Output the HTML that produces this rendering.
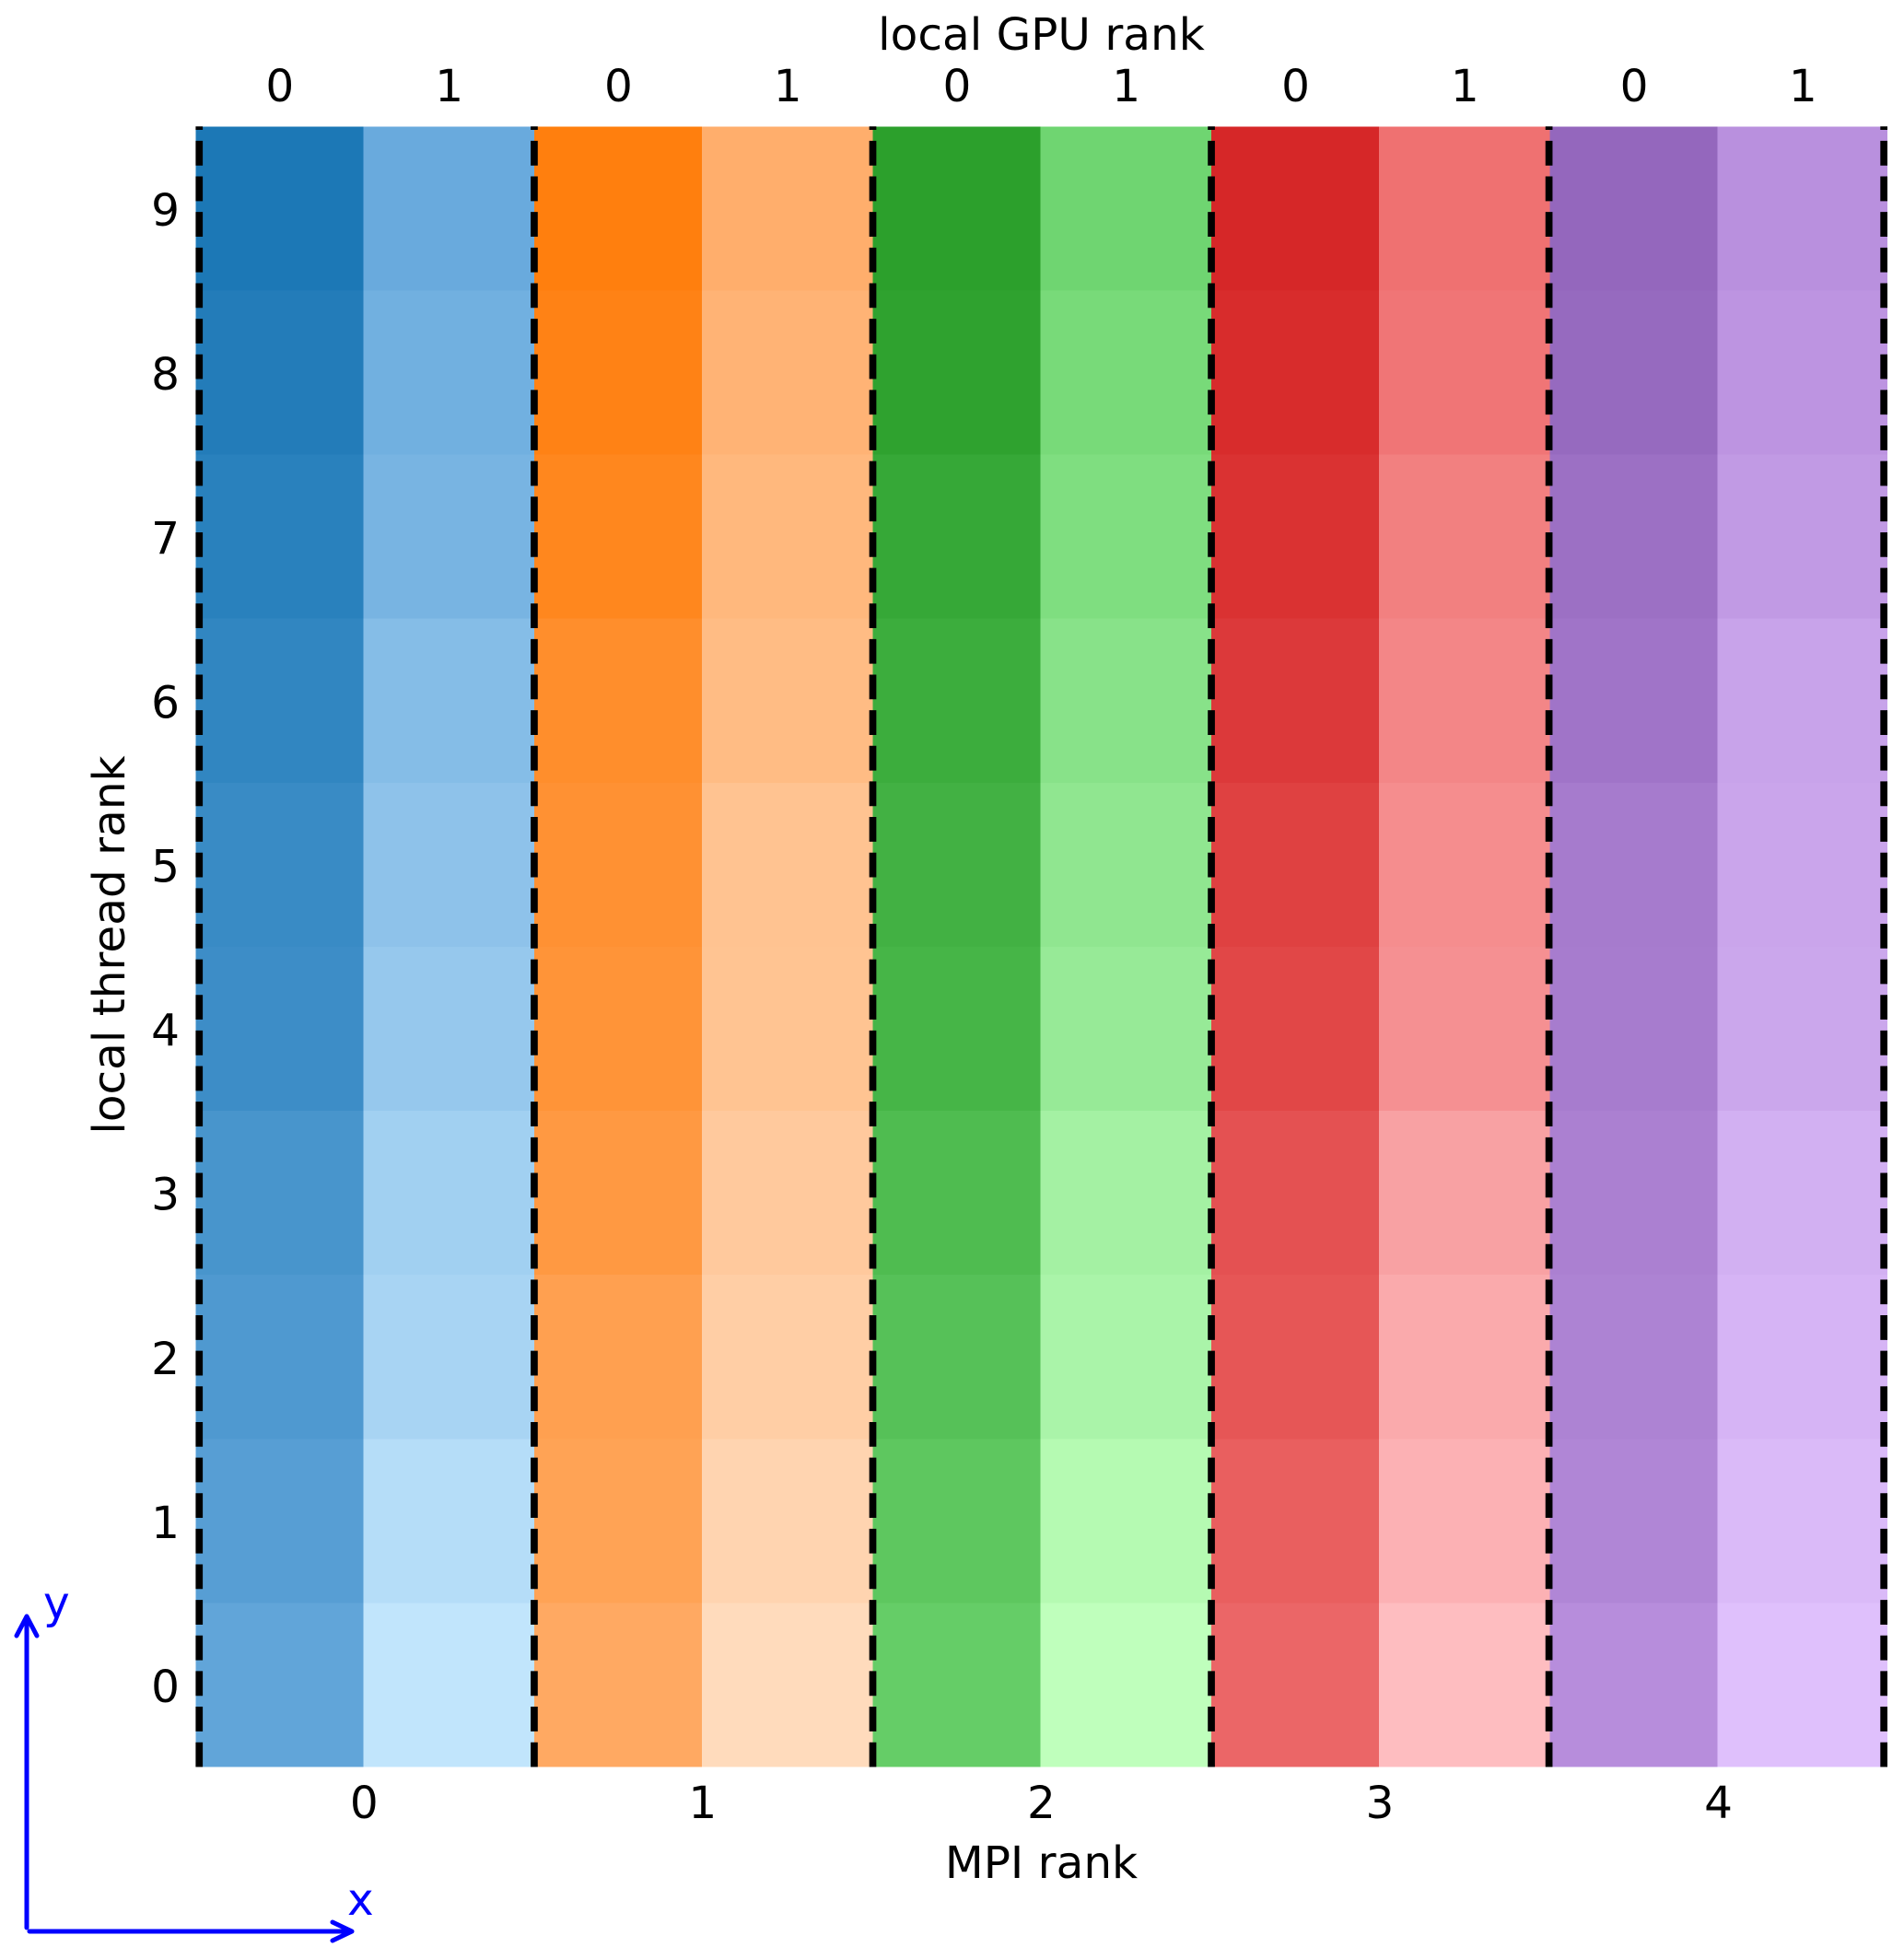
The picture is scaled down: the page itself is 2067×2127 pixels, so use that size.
<!DOCTYPE html>
<html lang="en">
<head>
<meta charset="utf-8">
<title>MPI, GPU and thread rank heatmap</title>
<style>
html,body{margin:0;padding:0;background:#fff;}
svg{display:block;}
text{font-family:"DejaVu Sans","Liberation Sans",sans-serif;fill:#000;font-size:48.5px;}
</style>
</head>
<body>
<svg id="chart" xmlns="http://www.w3.org/2000/svg" width="2067" height="2127" viewBox="0 0 2067 2127">
  <rect x="0" y="0" width="2067" height="2127" fill="#ffffff"/>
  <g id="cells"></g>
  <g id="dividers"></g>
  <g id="ticks"></g>
  <text x="1130.5" y="54" text-anchor="middle">local GPU rank</text>
  <text x="1130.5" y="2039" text-anchor="middle">MPI rank</text>
  <text transform="translate(135 1026) rotate(-90)" text-anchor="middle">local thread rank</text>
  <g fill="none" stroke="#0000ff" stroke-width="5" stroke-linecap="round" stroke-linejoin="round">
    <path d="M29 2093V1755M18 1776L29 1755L40 1776"/>
    <path d="M32 2097H381M361 2087L382 2097L361 2107"/>
  </g>
  <text x="47" y="1757" style="fill:#0000ff">y</text>
  <text x="377" y="2079" style="fill:#0000ff">x</text>
</svg>
<script>
// Categories
const mpiRanks = [0, 1, 2, 3, 4];
const gpuRanks = [0, 1];
const threadRanks = [0, 1, 2, 3, 4, 5, 6, 7, 8, 9];

// Shade per cell (0 = full colour, 100 = palest), listed from thread 0 to thread 9
const shadeMpi0Gpu0 = [42, 36, 31, 27, 20, 18, 13, 8, 4, 0];
const shadeMpi0Gpu1 = [100, 93, 85, 81, 74, 69, 64, 56, 52, 47];
const shadeMpi1Gpu0 = [48, 41, 38, 30, 24, 21, 17, 9, 4, 0];
const shadeMpi1Gpu1 = [100, 93, 87, 82, 76, 75, 68, 64, 59, 54];
const shadeMpi2Gpu0 = [39, 34, 29, 24, 18, 15, 11, 7, 2, 0];
const shadeMpi2Gpu1 = [100, 93, 86, 82, 73, 68, 63, 57, 52, 46];
const shadeMpi3Gpu0 = [42, 37, 31, 28, 21, 17, 12, 7, 3, 0];
const shadeMpi3Gpu1 = [100, 92, 87, 81, 70, 68, 63, 59, 52, 49];
const shadeMpi4Gpu0 = [43, 35, 31, 28, 24, 22, 15, 10, 3, 0];
const shadeMpi4Gpu1 = [100, 93, 87, 82, 72, 70, 67, 57, 51, 46];

const shades = [
  [shadeMpi0Gpu0, shadeMpi0Gpu1],
  [shadeMpi1Gpu0, shadeMpi1Gpu1],
  [shadeMpi2Gpu0, shadeMpi2Gpu1],
  [shadeMpi3Gpu0, shadeMpi3Gpu1],
  [shadeMpi4Gpu0, shadeMpi4Gpu1]
];

// Axis functions
const plot = { left: 212.4, right: 2049, top: 137.3, bottom: 1918.5 };
const rankStep = 367.55;
const gpuSplit = 181.9;
const rowStep = (plot.bottom - plot.top) / threadRanks.length;

function mpiEdge(i) { return plot.left + i * rankStep; }
function gpuEdge(mpi, gpu) {
  if (gpu === 0) return mpiEdge(mpi);
  if (gpu === 1) return mpiEdge(mpi) + gpuSplit;
  return Math.min(mpiEdge(mpi + 1), plot.right);
}
function threadTop(t) { return plot.bottom - (t + 1) * rowStep; }

// Colour scale: one three-stop ramp per MPI rank
function hexToRgb(h) { return [1, 3, 5].map(function (p) { return parseInt(h.substr(p, 2), 16); }); }
const ramps = [
  { dark: '#1c78b6', mid: '#69aadd', pale: '#c1e5fc', at: 47 },
  { dark: '#ff7f0e', mid: '#ffae6c', pale: '#ffdbbc', at: 54 },
  { dark: '#2ca02c', mid: '#6fd571', pale: '#bfffbc', at: 46 },
  { dark: '#d62728', mid: '#ef7171', pale: '#febdc0', at: 49 },
  { dark: '#9467bd', mid: '#b990de', pale: '#dfc0fc', at: 46 }
];
function shadeColor(mpi, v) {
  const r = ramps[mpi];
  let a, b, f;
  if (v <= r.at) { a = r.dark; b = r.mid; f = v / r.at; }
  else { a = r.mid; b = r.pale; f = (v - r.at) / (100 - r.at); }
  f = Math.max(0, Math.min(1, f));
  const ca = hexToRgb(a), cb = hexToRgb(b);
  return 'rgb(' + ca.map(function (c, k) { return Math.round(c + (cb[k] - c) * f); }).join(',') + ')';
}

const NS = 'http://www.w3.org/2000/svg';
const cellsGroup = document.getElementById('cells');
const dividersGroup = document.getElementById('dividers');
const ticksGroup = document.getElementById('ticks');

// Heatmap cells
mpiRanks.forEach(function (mpi, m) {
  gpuRanks.forEach(function (gpu, g) {
    threadRanks.forEach(function (thread, t) {
      const x0 = gpuEdge(m, g);
      const x1 = gpuEdge(m, g + 1);
      const cell = document.createElementNS(NS, 'rect');
      
      
      cell.setAttribute('x', x0);
      cell.setAttribute('y', threadTop(t));
      cell.setAttribute('width', x1 - x0);
      cell.setAttribute('height', rowStep);
      cell.setAttribute('fill', shadeColor(m, shades[m][g][t]));
      cell.setAttribute('shape-rendering', 'crispEdges');
      cellsGroup.appendChild(cell);
    });
  });
});

// Dashed dividers at each MPI rank boundary, dashes run from the bottom edge upward
const dividerWidth = 7.7;
for (let i = 0; i <= mpiRanks.length; i++) {
  const x = Math.max(plot.left + dividerWidth / 2, Math.min(mpiEdge(i) - (i === 4 ? 1 : 0), plot.right - dividerWidth / 2));
  const divider = document.createElementNS(NS, 'line');
  
  
  divider.setAttribute('x1', x);
  divider.setAttribute('x2', x);
  divider.setAttribute('y1', plot.bottom);
  divider.setAttribute('y2', plot.top);
  divider.setAttribute('stroke', '#000000');
  divider.setAttribute('stroke-width', dividerWidth);
  divider.setAttribute('stroke-dasharray', '26.8 11.84');
  dividersGroup.appendChild(divider);
}

// Tick labels
function addTick(name, label, x, y) {
  const tick = document.createElementNS(NS, 'text');
  
  
  tick.setAttribute('x', x);
  tick.setAttribute('y', y);
  tick.setAttribute('text-anchor', 'middle');
  tick.textContent = label;
  ticksGroup.appendChild(tick);
}
mpiRanks.forEach(function (mpi, m) {
  addTick('x-tick-mpi-' + mpi, mpi, gpuEdge(m, 1) + 1, 1974);
  gpuRanks.forEach(function (gpu, g) {
    addTick('top-tick-mpi' + mpi + '-gpu' + gpu, gpu, (gpuEdge(m, g) + gpuEdge(m, g + 1)) / 2 + 0.5, 110);
  });
});
threadRanks.forEach(function (thread, t) {
  addTick('y-tick-thread-' + thread, thread, 179.5, threadTop(t) + rowStep / 2 + 18.6);
});
</script>
</body>
</html>
